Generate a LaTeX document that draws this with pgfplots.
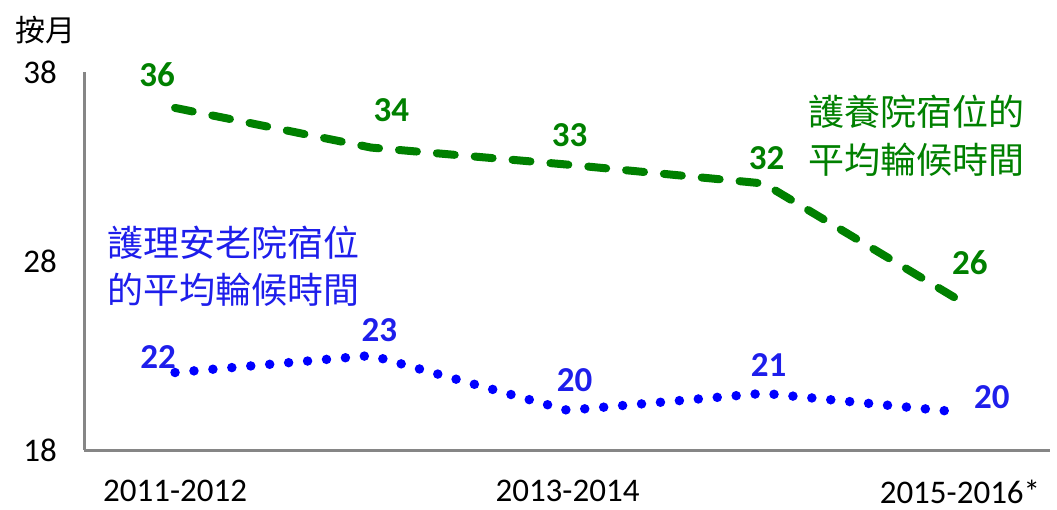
\documentclass[border=0pt]{standalone}
\usepackage{fontspec}
\setmainfont{Carlito}
\newfontfamily\cjk{Noto Sans CJK TC}
\usepackage{pgfplots}
\pgfplotsset{compat=1.18}
\definecolor{dgreen}{RGB}{0,128,0}
\definecolor{lblue}{RGB}{0,0,255}
\definecolor{tblue}{RGB}{30,30,235}
\definecolor{axgray}{RGB}{134,134,134}
\begin{document}
\begin{tikzpicture}[x=1pt,y=1pt]
\useasboundingbox (0,0) rectangle (1057,509);
\begin{axis}[
  at={(84pt,59pt)}, anchor=south west,
  scale only axis, width=966pt, height=378pt,
  xmin=-0.464, xmax=4.459, ymin=18, ymax=38,
  axis x line*=bottom, axis y line*=left,
  axis line style={draw=axgray, line width=3pt},
  xtick={0,2,4}, xticklabels={2011-2012,2013-2014,2015-2016*},
  ytick={18,28,38},
  /pgf/number format/assume math mode=true,
  major tick length=0pt,
  tick style={draw=none},
  ticklabel style={font=\fontsize{33}{38}\selectfont, text=black},
  yticklabel style={anchor=east, inner sep=0pt, xshift=-27pt},
  xticklabel style={anchor=north, inner sep=0pt, yshift=-30pt},
  clip=false,
]
\addplot[dgreen, line width=8pt, line cap=round, dash pattern=on 18pt off 20pt]
  coordinates {(0,36.1)(1,34.0)(2,33.1)(3,32.1)(4,25.9)};
\addplot[lblue, line width=9.5pt, line cap=round, dash pattern=on 0pt off 19pt]
  coordinates {(0,22.1)(1,23.0)(2,20.1)(3,21.0)(4,20.0)};
\begin{scope}[every node/.style={font=\fontsize{35}{40}\selectfont\bfseries, inner sep=0pt}]
\node[text=dgreen, xshift=-18pt, yshift=33pt] at (axis cs:0,36.1) {36};
\node[text=dgreen, xshift=20pt, yshift=37pt] at (axis cs:1,34.0) {34};
\node[text=dgreen, xshift=2pt, yshift=29pt] at (axis cs:2,33.1) {33};
\node[text=dgreen, xshift=3pt, yshift=25pt] at (axis cs:3,32.1) {32};
\node[text=dgreen, xshift=10pt, yshift=38pt] at (axis cs:4,25.9) {26};
\node[text=tblue, xshift=-17pt, yshift=15pt] at (axis cs:0,22.1) {22};
\node[text=tblue, xshift=8pt, yshift=25pt] at (axis cs:1,23.0) {23};
\node[text=tblue, xshift=7pt, yshift=30pt] at (axis cs:2,20.1) {20};
\node[text=tblue, xshift=5pt, yshift=28pt] at (axis cs:3,21.0) {21};
\node[text=tblue, xshift=32pt, yshift=15pt] at (axis cs:4,20.0) {20};
\end{scope}
\end{axis}
\node[text=dgreen, align=center, font=\cjk\fontsize{36}{48}\selectfont, inner sep=0pt] at (916,373) {護養院宿位的\\平均輪候時間};
\node[text=tblue, align=center, font=\cjk\fontsize{36}{47}\selectfont, inner sep=0pt] at (233,242.5) {護理安老院宿位\\的平均輪候時間};
\node[text=black, font=\cjk\fontsize{30}{36}\selectfont, inner sep=0pt] at (45,479) {按月};
\end{tikzpicture}
\end{document}
